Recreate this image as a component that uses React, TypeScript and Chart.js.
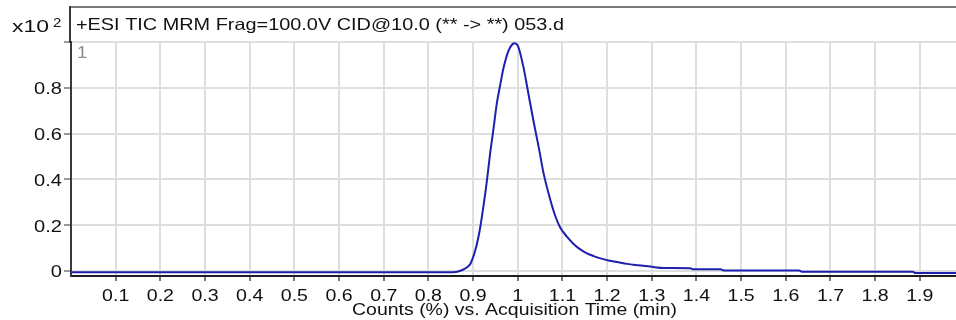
import React, { useEffect, useRef } from "react";
import { Chart, registerables } from "chart.js";

Chart.register(...registerables);

const TIMES = [0.0, 0.85, 0.86, 0.87, 0.88, 0.89, 0.895, 0.905, 0.916, 0.923, 0.931, 0.938, 0.946, 0.953, 0.961, 0.968, 0.979, 0.988, 0.993, 0.998, 1.002, 1.013, 1.024, 1.035, 1.047, 1.058, 1.073, 1.084, 1.095, 1.11, 1.125, 1.14, 1.155, 1.17, 1.185, 1.203, 1.225, 1.245, 1.27, 1.297, 1.327, 1.386, 1.394, 1.454, 1.461, 1.63, 1.636, 1.884, 1.89, 1.985];
const COUNTS = [-0.006, -0.006, -0.005, 0.0, 0.008, 0.022, 0.035, 0.09, 0.19, 0.28, 0.395, 0.51, 0.625, 0.73, 0.815, 0.885, 0.96, 0.99, 0.995, 0.99, 0.975, 0.888, 0.773, 0.657, 0.54, 0.425, 0.31, 0.24, 0.19, 0.15, 0.118, 0.094, 0.077, 0.065, 0.055, 0.046, 0.038, 0.031, 0.025, 0.019, 0.013, 0.012, 0.007, 0.007, 0.002, 0.002, -0.003, -0.003, -0.009, -0.009];

const X_TICKS = [0.1, 0.2, 0.3, 0.4, 0.5, 0.6, 0.7, 0.8, 0.9, 1.0, 1.1, 1.2, 1.3, 1.4, 1.5, 1.6, 1.7, 1.8, 1.9];
const Y_TICKS = [0, 0.2, 0.4, 0.6, 0.8, 1.0];
const Y_LABELED = [0, 0.2, 0.4, 0.6, 0.8];

const TITLE = "+ESI TIC MRM Frag=100.0V CID@10.0 (** -> **) 053.d";
const X_TITLE = "Counts (%) vs. Acquisition Time (min)";
const Y_MULT = "x10";
const Y_EXP = "2";
const PANE = "1";

const FONT = '"Liberation Sans", Arial, Helvetica, sans-serif';

function fmt(v: number): string {
  return String(Number(v.toFixed(1)));
}

function drawText(
  ctx: CanvasRenderingContext2D,
  str: string,
  x: number,
  y: number,
  size: number,
  sx: number,
  align: "left" | "center" | "right",
  color: string
) {
  ctx.save();
  ctx.font = `${size}px ${FONT}`;
  ctx.fillStyle = color;
  ctx.textBaseline = "alphabetic";
  ctx.textAlign = "left";
  const w = ctx.measureText(str).width * sx;
  const x0 = align === "center" ? x - w / 2 : align === "right" ? x - w : x;
  ctx.translate(x0, y);
  ctx.scale(sx, 1);
  ctx.fillText(str, 0, 0);
  ctx.restore();
}

function drawTextWidth(
  ctx: CanvasRenderingContext2D,
  str: string,
  x: number,
  y: number,
  size: number,
  width: number,
  color: string
) {
  ctx.save();
  ctx.font = `${size}px ${FONT}`;
  const sx = width / ctx.measureText(str).width;
  ctx.restore();
  drawText(ctx, str, x, y, size, sx, "left", color);
}

const textPlugin = {
  id: "msText",
  afterDraw(chart: any) {
    const ctx: CanvasRenderingContext2D = chart.ctx;
    const { left, top, right, bottom } = chart.chartArea;
    const xs = chart.scales.x;
    const ys = chart.scales.y;

    // header band frame
    ctx.save();
    ctx.strokeStyle = "#7c7c7c";
    ctx.lineWidth = 2;
    ctx.beginPath();
    ctx.moveTo(left - 2, 7);
    ctx.lineTo(right, 7);
    ctx.stroke();
    ctx.strokeStyle = "#3a3a3a";
    ctx.beginPath();
    ctx.moveTo(left - 1, 6);
    ctx.lineTo(left - 1, top + 1);
    ctx.stroke();
    ctx.restore();

    // header texts
    drawTextWidth(ctx, TITLE, left + 5, 30, 16.5, 488, "#111");
    drawTextWidth(ctx, Y_MULT, 12, 32, 16, 37, "#111");
    drawText(ctx, Y_EXP, 53, 27, 12.5, 1.2, "left", "#111");
    drawText(ctx, PANE, left + 6, 57.5, 16, 1.15, "left", "#8a8a8a");

    // y tick labels
    for (const v of Y_LABELED) {
      const py = ys.getPixelForValue(v);
      drawText(ctx, fmt(v), 62, py + 6.5, 17, 1.18, "right", "#111");
    }
    // x tick labels
    for (const v of X_TICKS) {
      const px = xs.getPixelForValue(v);
      drawText(ctx, fmt(v), px, bottom + 25, 17, 1.15, "center", "#111");
    }
    // x axis title
    drawText(ctx, X_TITLE, (left + right) / 2 + 1, bottom + 39, 16.5, 1.18, "center", "#111");
  },
};

export default function App() {
  const ref = useRef<HTMLCanvasElement | null>(null);

  useEffect(() => {
    document.body.style.margin = "0";
    const canvas = ref.current;
    if (!canvas) return;
    const points = TIMES.map((t, i) => ({ x: t, y: COUNTS[i] }));
    const chart = new Chart(canvas, {
      type: "line",
      data: {
        datasets: [
          {
            data: points,
            borderColor: "#1f1fae",
            borderWidth: 2,
            pointRadius: 0,
            fill: false,
            cubicInterpolationMode: "monotone",
          },
        ],
      },
      options: {
        animation: false,
        responsive: false,
        events: [],
        layout: { padding: { top: 42, left: 0, right: 0, bottom: 0 } },
        plugins: {
          legend: { display: false },
          tooltip: { enabled: false },
          title: { display: false },
        },
        scales: {
          x: {
            type: "linear",
            min: 0,
            max: 1.981,
            afterBuildTicks: (scale: any) => {
              scale.ticks = X_TICKS.map((v) => ({ value: v }));
            },
            afterFit: (scale: any) => {
              scale.height = 44;
              scale.paddingLeft = 0;
              scale.paddingRight = 0;
            },
            ticks: { display: false },
            grid: {
              color: "#dedede",
              lineWidth: 2,
              drawTicks: true,
              tickLength: 5,
              tickColor: "#777",
            },
            border: { display: true, color: "#1e1e1e", width: 2 },
          },
          y: {
            type: "linear",
            min: -0.022,
            max: 1.0,
            afterBuildTicks: (scale: any) => {
              scale.ticks = Y_TICKS.map((v) => ({ value: v }));
            },
            afterFit: (scale: any) => {
              scale.width = 71;
              scale.paddingTop = 0;
              scale.paddingBottom = 0;
            },
            ticks: { display: false },
            grid: {
              color: "#dedede",
              lineWidth: 2,
              drawTicks: true,
              tickLength: 7,
              tickColor: "#9a9a9a",
            },
            border: { display: true, color: "#3a3a3a", width: 2 },
          },
        },
      },
      plugins: [textPlugin],
    } as any);
    return () => chart.destroy();
  }, []);

  return (
    <div style={{ width: 956, height: 320 }}>
      <canvas ref={ref} width={956} height={320} style={{ display: "block" }} />
    </div>
  );
}
